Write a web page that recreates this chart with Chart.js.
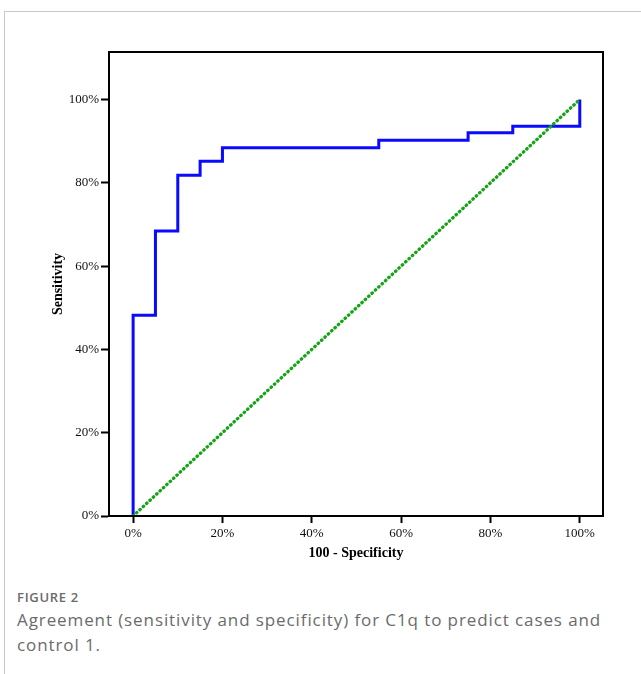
<!DOCTYPE html>
<html lang="en">
<head>
    <meta charset="UTF-8">
    <title>Figure 2 - ROC curve C1q</title>
    <script src="https://cdn.jsdelivr.net/npm/chart.js"></script>
    <style>
        body {
            margin: 0;
            padding: 0;
            background: #fff;
            width: 641px;
            height: 674px;
            overflow: hidden;
            position: relative;
        }
        .card {
            position: absolute;
            left: 4px;
            top: 11px;
            width: 700px;
            height: 700px;
            border-left: 1px solid #c8c8c8;
            border-top: 1px solid #c8c8c8;
        }
        #chartWrap {
            position: absolute;
            left: 0;
            top: 0;
            width: 641px;
            height: 580px;
        }
        .fig-label {
            position: absolute;
            left: 17px;
            top: 588px;
            font-family: 'Open Sans', sans-serif;
            font-size: 13px;
            letter-spacing: 0.7px;
            font-weight: 600;
            color: #6b6b6b;
        }
        .caption {
            position: absolute;
            left: 17px;
            top: 607px;
            width: 600px;
            font-family: 'Open Sans', sans-serif;
            font-size: 17px;
            letter-spacing: 0.9px;
            line-height: 25px;
            font-weight: 400;
            color: #6b6b6b;
        }
    </style>
</head>
<body>
    <div class="card"></div>
    <div id="chartWrap">
        <canvas id="rocChart" width="641" height="580"></canvas>
    </div>
    <div class="fig-label">FIGURE 2</div>
    <div class="caption">Agreement (sensitivity and specificity) for C1q to predict cases and control 1.</div>

    <script>
        // ROC curve corners (100 - specificity, sensitivity), horizontal step first
        var fpr = [0, 0, 5, 10, 15, 20, 55, 75, 85, 100];
        var tpr = [0, 48.2, 68.4, 81.8, 85.2, 88.4, 90.2, 92.0, 93.6, 100];
        // reference diagonal
        var refX = [0, 100];
        var refY = [0, 100];
        var tickValues = [0, 20, 40, 60, 80, 100];

        var rocPoints = fpr.map(function (x, i) { return { x: x, y: tpr[i] }; });
        var refPoints = refX.map(function (x, i) { return { x: x, y: refY[i] }; });

        // frame around the plot area
        var boxPlugin = {
            id: 'box',
            afterDraw: function (chart) {
                var a = chart.chartArea;
                var ctx = chart.ctx;
                ctx.save();
                ctx.strokeStyle = '#000';
                ctx.lineWidth = 2;
                ctx.strokeRect(a.left, a.top, a.right - a.left, a.bottom - a.top);
                ctx.restore();
            }
        };

        var tickFont = { family: "'Liberation Serif', serif", size: 13 };
        var titleFont = { family: "'Liberation Serif', serif", size: 14, weight: 'bold' };

        var ctx = document.getElementById('rocChart').getContext('2d');
        var rocChart = new Chart(ctx, {
            type: 'line',
            data: {
                datasets: [{
                    label: 'Reference',
                    data: refPoints,
                    borderColor: '#16a316',
                    borderWidth: 3.3,
                    borderDash: [0.5, 4.1],
                    borderCapStyle: 'round',
                    pointRadius: 0,
                    fill: false
                }, {
                    label: 'C1q',
                    data: rocPoints,
                    borderColor: '#0a0aff',
                    borderWidth: 3,
                    stepped: 'before',
                    borderJoinStyle: 'miter',
                    pointRadius: 0,
                    fill: false
                }]
            },
            options: {
                responsive: false,
                animation: false,
                layout: {
                    padding: { left: 0, top: 52, right: 38, bottom: 0 }
                },
                plugins: {
                    legend: { display: false },
                    tooltip: { enabled: false }
                },
                scales: {
                    x: {
                        type: 'linear',
                        min: -5.4,
                        max: 105.2,
                        afterBuildTicks: function (scale) {
                            scale.ticks = tickValues.map(function (v) { return { value: v }; });
                        },
                        afterFit: function (scale) { scale.height = 64; },
                        grid: {
                            drawOnChartArea: false,
                            drawTicks: true,
                            tickLength: 7,
                            tickWidth: 2,
                            tickColor: '#000'
                        },
                        border: { display: true, color: '#000', width: 2 },
                        ticks: {
                            font: tickFont,
                            color: '#111',
                            padding: 3,
                            maxRotation: 0,
                            callback: function (v) { return v + '%'; }
                        },
                        title: {
                            display: true,
                            text: '100 - Specificity',
                            font: titleFont,
                            color: '#000',
                            padding: { top: 0, bottom: 18 }
                        }
                    },
                    y: {
                        type: 'linear',
                        min: 0,
                        max: 111.4,
                        afterBuildTicks: function (scale) {
                            scale.ticks = tickValues.map(function (v) { return { value: v }; });
                        },
                        afterFit: function (scale) { scale.width = 109; },
                        grid: {
                            drawOnChartArea: false,
                            drawTicks: true,
                            tickLength: 8,
                            tickWidth: 2,
                            tickColor: '#000'
                        },
                        border: { display: true, color: '#000', width: 2 },
                        ticks: {
                            font: tickFont,
                            color: '#111',
                            padding: 2,
                            callback: function (v) { return v + '%'; }
                        },
                        title: {
                            display: true,
                            text: 'Sensitivity',
                            font: titleFont,
                            color: '#000',
                            padding: { top: 50, bottom: 0 }
                        }
                    }
                }
            },
            plugins: [boxPlugin]
        });
    </script>
</body>
</html>
